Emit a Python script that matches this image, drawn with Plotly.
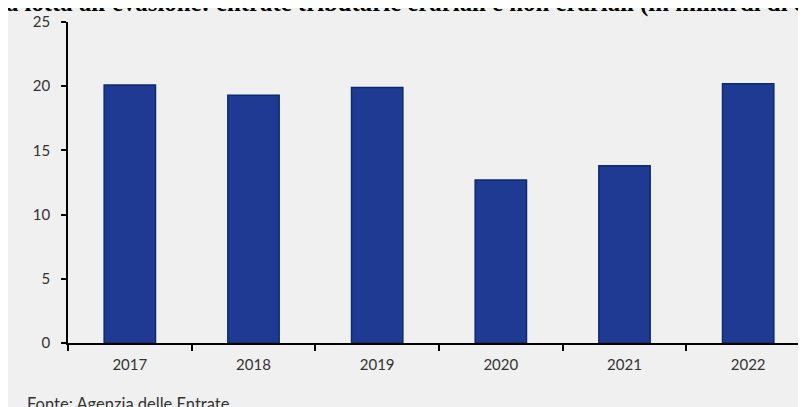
import plotly.graph_objects as go

years = ["2017", "2018", "2019", "2020", "2021", "2022"]
recovered = [20.1, 19.3, 19.9, 12.7, 13.8, 20.2]
y_ticks = [0, 5, 10, 15, 20, 25]
title_text = "la lotta all'evasione: entrate tributarie erariali e non erariali (in miliardi di euro)"
source_text = "Fonte: Agenzia delle Entrate"

# figure is placed by the page at (8, 8)
W, H = 806, 407
L, R, T, B = 60, 4, 12, 72
PW = W - L - R
PH = H - T - B

def px_x(p):
    return (p - L) / PW

def px_y(q):
    return (H - B - q) / PH

fig = go.Figure(
    go.Bar(
        x=years,
        y=recovered,
        width=0.415,
        marker=dict(color="#1f3a93", line=dict(color="#0d2a6e", width=1.5)),
        hoverinfo="skip",
    )
)

fig.add_annotation(
    text="<b>" + title_text + "</b>", xref="paper", yref="paper",
    x=px_x(-11.5), y=px_y(-7), xanchor="left", yanchor="middle",
    showarrow=False, font=dict(family="Liberation Serif", size=24.8, color="#000000"),
)
fig.add_annotation(
    text=source_text, xref="paper", yref="paper",
    x=px_x(17), y=px_y(396.5), xanchor="left", yanchor="middle",
    showarrow=False, font=dict(family="Lato", size=16.5, color="#333333"),
)

fig.update_layout(
    width=W, height=H, autosize=False,
    margin=dict(l=L, r=R, t=T, b=B, pad=0),
    paper_bgcolor="#f0f0f0", plot_bgcolor="#f0f0f0",
    showlegend=False,
    font=dict(family="Lato", size=15, color="#333333"),
)
fig.update_xaxes(
    type="category", range=[-0.5, 5.5],
    showline=True, linecolor="#000000", linewidth=1.5,
    ticks="outside", tickson="boundaries", ticklen=6, tickwidth=1.5, tickcolor="#000000",
    showgrid=False, zeroline=False, ticklabelstandoff=7,
    tickfont=dict(family="Lato", size=15, color="#333333"),
)
fig.update_yaxes(
    range=[0, 25], tickvals=y_ticks,
    showline=True, linecolor="#000000", linewidth=1.5,
    ticks="outside", ticklen=5, tickwidth=1.5, tickcolor="#000000",
    showgrid=False, zeroline=False, ticklabelstandoff=8,
    tickfont=dict(family="Lato", size=15, color="#333333"),
)

fig.write_html("out.html")
